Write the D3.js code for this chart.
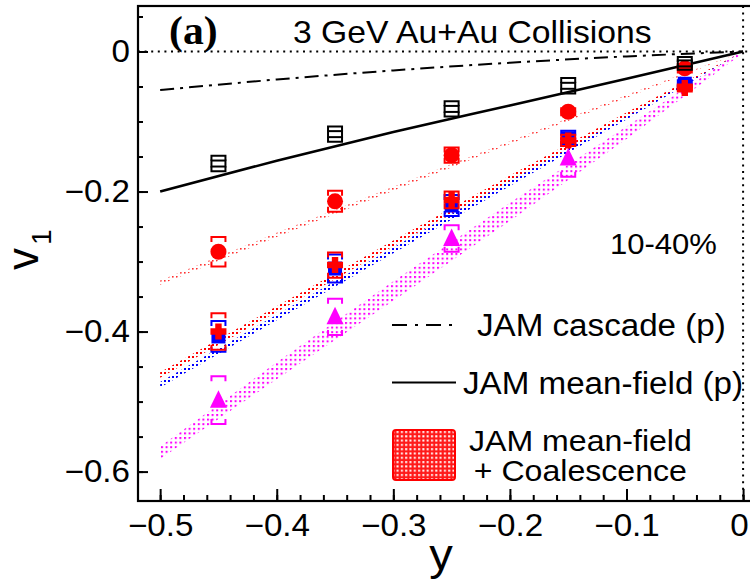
<!DOCTYPE html>
<html>
<head>
<meta charset="utf-8">
<script src="https://cdn.jsdelivr.net/npm/d3@7"></script>
<style>
  html, body { margin: 0; padding: 0; background: #fff; }
  svg { display: block; font-family: "Liberation Sans", Arial, sans-serif; }
</style>
</head>
<body>
<svg id="chart" width="750" height="583"></svg>
<script>
// ---- measured v1 vs rapidity, 3 GeV Au+Au, 10-40% ----
const rapidity   = [-0.45, -0.35, -0.25, -0.15, -0.05];

const protonV1   = [-0.160, -0.118, -0.082, -0.049, -0.017];
const protonSys  = [0.011, 0.011, 0.011, 0.011, 0.009];

const deuteronV1  = [-0.286, -0.214, -0.148, -0.086, -0.024];
const deuteronSys = [0.021, 0.015, 0.011, 0.005, 0.006];

const tritonV1  = [-0.400, -0.305, -0.212, -0.127, -0.052];
const tritonSys = [0.026, 0.018, 0.012, 0.008, 0.005];

const helium3V1  = [-0.407, -0.310, -0.220, -0.124, -0.046];
const helium3Sys = [0.022, 0.020, 0.015, 0.011, 0.005];

const helium4Rap = [-0.45, -0.35, -0.25, -0.15];
const helium4V1  = [-0.498, -0.379, -0.267, -0.152];
const helium4Sys = [0.034, 0.026, 0.019, 0.027];

// ---- JAM model curves ----
const modelRap    = [-0.5, -0.4, -0.3, -0.2, -0.1, 0];
const cascadeP    = [-0.055, -0.040, -0.027, -0.016, -0.007, 0];
const meanFieldP  = [-0.200, -0.156, -0.115, -0.077, -0.039, 0];
// JAM mean-field + coalescence bands (lower / upper edges)
const coalDLow    = [-0.333, -0.265, -0.199, -0.132, -0.066, 0];
const coalDHigh   = [-0.327, -0.259, -0.193, -0.128, -0.062, 0];
const coalTLow    = [-0.466, -0.372, -0.278, -0.185, -0.093, 0];
const coalTHigh   = [-0.458, -0.364, -0.270, -0.177, -0.087, 0];
const coalHe3Low  = [-0.480, -0.384, -0.288, -0.192, -0.097, 0];
const coalHe3High = [-0.472, -0.376, -0.280, -0.184, -0.091, 0];
const coalHe4Low  = [-0.582, -0.468, -0.356, -0.242, -0.125, -0.002];
const coalHe4High = [-0.564, -0.444, -0.328, -0.216, -0.107, 0.002];

// ---- axis ticks ----
const xMajorTicks = [-0.5, -0.4, -0.3, -0.2, -0.1, 0];
const yMajorTicks = [-0.6, -0.4, -0.2, 0];

const SX = 1.07; // horizontal stretch of all lettering

const svg = d3.select("#chart");
const frameL = 138, frameR = 753, frameT = 6, frameB = 501;

const xs = d3.scaleLinear().domain([-0.519, 0.0085]).range([frameL, frameR]);
const ys = d3.scaleLinear().domain([-0.642, 0.065]).range([frameB, frameT]);

const defs = svg.append("defs");
function dotPattern(id, color, size, gap) {
  const p = defs.append("pattern").attr("id", id)
    .attr("patternUnits", "userSpaceOnUse").attr("width", gap).attr("height", gap);
  p.append("rect").attr("x", 0).attr("y", 0).attr("width", size).attr("height", size).attr("fill", color);
}
dotPattern("dotRedLight", "#ff3030", 1.6, 4);
dotPattern("dotRed", "#ff0000", 2, 4);
dotPattern("dotBlue", "#0000ff", 2, 4);
dotPattern("dotMagenta", "#ff00ff", 2, 4.6);
// dense red fill for legend swatch
const lp = defs.append("pattern").attr("id", "legendFill")
  .attr("patternUnits", "userSpaceOnUse").attr("width", 4.3).attr("height", 4.3);
lp.append("rect").attr("width", 4.3).attr("height", 4.3).attr("fill", "#ff1a1a");
lp.append("rect").attr("x", 1).attr("y", 1).attr("width", 2).attr("height", 2).attr("fill", "#fff");

const clip = defs.append("clipPath").attr("id", "plotClip");
clip.append("rect").attr("x", frameL).attr("y", frameT).attr("width", frameR - frameL).attr("height", frameB - frameT);

const plot = svg.append("g").attr("clip-path", "url(#plotClip)");

// reference lines at v1 = 0 and y = 0
plot.append("line").attr("x1", frameL).attr("x2", frameR).attr("y1", ys(0)).attr("y2", ys(0))
  .attr("stroke", "#000").attr("stroke-width", 2).attr("stroke-dasharray", "2,4.6");
plot.append("line").attr("x1", xs(0)).attr("x2", xs(0)).attr("y1", frameT).attr("y2", frameB)
  .attr("stroke", "#000").attr("stroke-width", 2).attr("stroke-dasharray", "2,4.6");

// coalescence bands
const area = d3.area().x((d, i) => xs(modelRap[i])).y0(d => ys(d[0])).y1(d => ys(d[1]));
function band(lo, hi, fill) {
  plot.append("path").datum(lo.map((v, i) => [v, hi[i]])).attr("d", area).attr("fill", fill);
}
band(coalHe4Low, coalHe4High, "url(#dotMagenta)");
band(coalHe3Low, coalHe3High, "url(#dotBlue)");
band(coalTLow, coalTHigh, "url(#dotRed)");
band(coalDLow, coalDHigh, "url(#dotRedLight)");

// JAM proton curves
const line = d3.line().x((d, i) => xs(modelRap[i])).y(d => ys(d)).curve(d3.curveMonotoneX);
plot.append("path").datum(cascadeP).attr("d", line).attr("fill", "none")
  .attr("stroke", "#000").attr("stroke-width", 2).attr("stroke-dasharray", "14,6,3,6");
plot.append("path").datum(meanFieldP).attr("d", line).attr("fill", "none")
  .attr("stroke", "#000").attr("stroke-width", 2.6);

// systematic-error brackets
function brackets(rap, vals, sys, color) {
  const g = plot.append("g");
  g.selectAll("path").data(vals).join("path")
    .attr("d", (v, i) => {
      const x = xs(rap[i]), t = ys(v + sys[i]), b = ys(v - sys[i]);
      const k = Math.min(5, (b - t) / 2), w = 7;
      return `M${x - w},${t + k}V${t}H${x + w}V${t + k}M${x - w},${b - k}V${b}H${x + w}V${b - k}`;
    })
    .attr("fill", "none").attr("stroke", color).attr("stroke-width", 2);
}

// helium-4: triangles
brackets(helium4Rap, helium4V1, helium4Sys, "#ff00ff");
plot.append("g").selectAll("path").data(helium4V1).join("path")
  .attr("d", (v, i) => {
    const x = xs(helium4Rap[i]), y = ys(v);
    return `M${x},${y - 10}L${x + 8.5},${y + 7.5}L${x - 8.5},${y + 7.5}Z`;
  })
  .attr("fill", "#ff00ff");

// helium-3: blue squares
brackets(rapidity, helium3V1, helium3Sys, "#0000ff");
plot.append("g").selectAll("rect").data(helium3V1).join("rect")
  .attr("x", (v, i) => xs(rapidity[i]) - 7).attr("y", v => ys(v) - 7)
  .attr("width", 14).attr("height", 14).attr("fill", "#0000ff");

// triton: red crosses
brackets(rapidity, tritonV1, tritonSys, "#ff0000");
plot.append("g").selectAll("path").data(tritonV1).join("path")
  .attr("d", (v, i) => {
    const x = xs(rapidity[i]), y = ys(v), a = 8, h = 3.2;
    return `M${x - h},${y - a}H${x + h}V${y - h}H${x + a}V${y + h}H${x + h}V${y + a}H${x - h}V${y + h}H${x - a}V${y - h}H${x - h}Z`;
  })
  .attr("fill", "#ff0000");

// deuteron: red circles
brackets(rapidity, deuteronV1, deuteronSys, "#ff0000");
plot.append("g").selectAll("circle").data(deuteronV1).join("circle")
  .attr("cx", (v, i) => xs(rapidity[i])).attr("cy", v => ys(v)).attr("r", 8)
  .attr("fill", "#ff0000");

// proton: open squares
brackets(rapidity, protonV1, protonSys, "#000");
plot.append("g").selectAll("rect").data(protonV1).join("rect")
  .attr("x", (v, i) => xs(rapidity[i]) - 7).attr("y", v => ys(v) - 3)
  .attr("width", 14).attr("height", 6).attr("fill", "none")
  .attr("stroke", "#000").attr("stroke-width", 2);

// ---- axes ----
function stretchTexts(sel) {
  sel.selectAll("text").each(function () {
    const t = d3.select(this);
    const x = +t.attr("x") || 0, y = +t.attr("y") || 0;
    t.attr("x", 0).attr("y", 0).attr("transform", `translate(${x},${y}) scale(${SX},1)`);
  });
}
const fmt = d => d === 0 ? "0" : d3.format(".1f")(d);

const yMinor = d3.range(-0.6, 0.0501, 0.05).map(d => +d.toFixed(2));
const xMinor = d3.range(-0.5, 0.001, 0.02).map(d => +d.toFixed(2));

const gy = svg.append("g").attr("transform", `translate(${frameL},0)`);
gy.call(d3.axisLeft(ys).tickValues(yMinor).tickSizeInner(-5).tickSizeOuter(0).tickFormat(""));
gy.call(g => g.select(".domain").remove());
const gy2 = svg.append("g").attr("transform", `translate(${frameL},0)`);
gy2.call(d3.axisLeft(ys).tickValues(yMajorTicks).tickSizeInner(-10).tickSizeOuter(0).tickPadding(8).tickFormat(fmt));
gy2.call(g => g.select(".domain").remove());

const gx = svg.append("g").attr("transform", `translate(0,${frameB})`);
gx.call(d3.axisBottom(xs).tickValues(xMinor).tickSizeInner(-6).tickSizeOuter(0).tickFormat(""));
gx.call(g => g.select(".domain").remove());
const gx2 = svg.append("g").attr("transform", `translate(0,${frameB})`);
gx2.call(d3.axisBottom(xs).tickValues(xMajorTicks).tickSizeInner(-12).tickSizeOuter(0).tickPadding(13).tickFormat(fmt));
gx2.call(g => g.select(".domain").remove());

[gy, gy2, gx, gx2].forEach(g => g.selectAll("line").attr("stroke", "#000").attr("stroke-width", 2));
[gy2, gx2].forEach(g => {
  g.selectAll("text").attr("font-size", 31).attr("fill", "#000")
    .attr("font-family", "'Liberation Sans', Arial, sans-serif");
  stretchTexts(g);
});
// keep the last x label inside the window
gx2.selectAll(".tick").filter(d => d === 0).select("text").attr("text-anchor", "end")
  .attr("transform", `translate(5,13) scale(${SX},1)`);

// frame
svg.append("rect").attr("x", frameL).attr("y", frameT).attr("width", frameR - frameL).attr("height", frameB - frameT)
  .attr("fill", "none").attr("stroke", "#000").attr("stroke-width", 2.2);

// ---- lettering ----
function label(x, y, str, size, opts = {}) {
  return svg.append("text")
    .attr("transform", `translate(${x},${y}) scale(${SX},1)`)
    .attr("font-size", size)
    .attr("text-anchor", opts.anchor || "start")
    .attr("font-family", opts.family || "'Liberation Sans', Arial, sans-serif")
    .attr("font-weight", opts.weight || "normal")
    .attr("fill", "#000")
    .text(str);
}
label(169, 44, "(a)", 39, { family: "'Liberation Serif', 'Times New Roman', serif", weight: "bold" });
label(293, 43, "3 GeV Au+Au Collisions", 31.5);
label(610, 254, "10-40%", 29);

// axis titles
label(441, 570, "y", 44, { anchor: "middle" });
const vt = svg.append("text").attr("transform", "translate(38,270) rotate(-90)")
  .attr("font-family", "'Liberation Sans', Arial, sans-serif").attr("fill", "#000");
vt.append("tspan").attr("font-size", 44).text("v");
vt.append("tspan").attr("font-size", 28).attr("dx", 3).attr("dy", 13).text("1");

// legend
svg.append("line").attr("x1", 392).attr("x2", 456).attr("y1", 325).attr("y2", 325)
  .attr("stroke", "#000").attr("stroke-width", 2).attr("stroke-dasharray", "15,8,3,8");
label(477, 336, "JAM cascade (p)", 31);
svg.append("line").attr("x1", 392).attr("x2", 456).attr("y1", 382.5).attr("y2", 382.5)
  .attr("stroke", "#000").attr("stroke-width", 2);
label(463, 394, "JAM mean-field (p)", 31);
svg.append("rect").attr("x", 393).attr("y", 430).attr("width", 62).attr("height", 50).attr("rx", 3)
  .attr("fill", "url(#legendFill)").attr("stroke", "#ff0000").attr("stroke-width", 2);
const coalLabel = svg.append("text")
  .attr("transform", `translate(469,451) scale(${SX},1)`)
  .attr("font-size", 30).attr("fill", "#000")
  .attr("font-family", "'Liberation Sans', Arial, sans-serif");
coalLabel.append("tspan").attr("x", 0).attr("y", 0).text("JAM mean-field");
coalLabel.append("tspan").attr("x", 4.5).attr("y", 30).text("+ Coalescence");
</script>
</body>
</html>
